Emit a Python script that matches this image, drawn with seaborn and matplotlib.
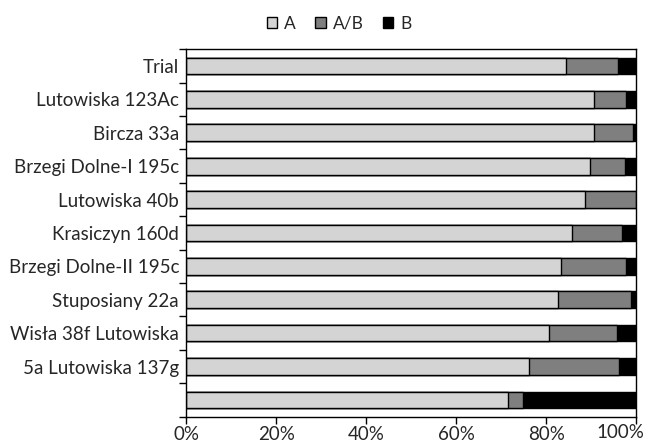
import numpy as np
import pandas as pd
import matplotlib
matplotlib.use('Agg')
import matplotlib.pyplot as plt
from matplotlib.patches import Patch
import seaborn as sns

# Data: share of each class per site (%)
sites = ['Trial', 'Lutowiska 123Ac', 'Bircza 33a', 'Brzegi Dolne-I 195c',
         'Lutowiska 40b', 'Krasiczyn 160d', 'Brzegi Dolne-II 195c',
         'Stuposiany 22a', 'Wisła 38f Lutowiska', '5a Lutowiska 137g', '']
share_a = [84.4, 90.6, 90.6, 89.7, 88.6, 85.8, 83.3, 82.7, 80.6, 76.1, 71.6]
share_ab = [11.5, 7.2, 8.6, 7.8, 11.4, 11.0, 14.3, 16.2, 15.2, 20.0, 3.2]
share_b = [4.1, 2.2, 0.8, 2.5, 0.0, 3.2, 2.4, 1.1, 4.2, 3.9, 25.2]
x_ticks = [0, 20, 40, 60, 80, 100]

colors = {'A': '#D4D4D4', 'A/B': '#7F7F7F', 'B': '#000000'}

sns.set_theme(style='white')
plt.rcParams['font.family'] = ['Lato', 'DejaVu Sans']

df = pd.DataFrame({'site': [f'{i}_{s}' for i, s in enumerate(sites)],
                   'A': share_a, 'A/B': share_ab, 'B': share_b})
df['cum_ab'] = df['A'] + df['A/B']
df['cum_b'] = df['cum_ab'] + df['B']

fig, ax = plt.subplots(figsize=(6.46, 4.48), dpi=100)
# overlay cumulative bars, widest first
for col, key in [('cum_b', 'B'), ('cum_ab', 'A/B'), ('A', 'A')]:
    sns.barplot(data=df, x=col, y='site', orient='h', color=colors[key],
                saturation=1, width=0.5, edgecolor='black', linewidth=1,
                ax=ax)

ax.set_xlim(0, 100)
ax.set_ylim(len(sites) - 0.5, -0.5)
ax.set_xticks(x_ticks)
# last label drawn separately so it stays inside the canvas
ax.set_xticklabels([f'{v}%' for v in x_ticks[:-1]] + [''], fontsize=13.5)
ax.annotate(f'{x_ticks[-1]}%', xy=(x_ticks[-1], 0), xycoords=('data', 'axes fraction'),
            xytext=(5.5, -5.3), textcoords='offset points', ha='right', va='top',
            fontsize=13.5)
ax.set_yticks(np.arange(len(sites)))
ax.set_yticklabels(sites, fontsize=13.5)
ax.set_yticks(np.arange(-0.5, len(sites), 1), minor=True)
ax.tick_params(axis='y', which='major', length=0, pad=5)
ax.tick_params(axis='y', which='minor', length=5, width=1, color='black', left=True)
ax.tick_params(axis='x', which='major', length=5, width=1, color='black', bottom=True, pad=2)
ax.set_xlabel('')
ax.set_ylabel('')
for sp in ax.spines.values():
    sp.set_color('black')
    sp.set_linewidth(1)

handles = [Patch(facecolor=colors[k], edgecolor='black', label=k)
           for k in ['A', 'A/B', 'B']]
fig.legend(handles=handles, loc='upper center', bbox_to_anchor=(0.525, 1.0),
           ncol=3, frameon=False, fontsize=12.5, handlelength=0.6,
           handleheight=0.6, handletextpad=0.4, columnspacing=1.1)

fig.subplots_adjust(left=0.288, right=0.985, top=0.89, bottom=0.07)
fig.savefig('out.png', dpi=100)
